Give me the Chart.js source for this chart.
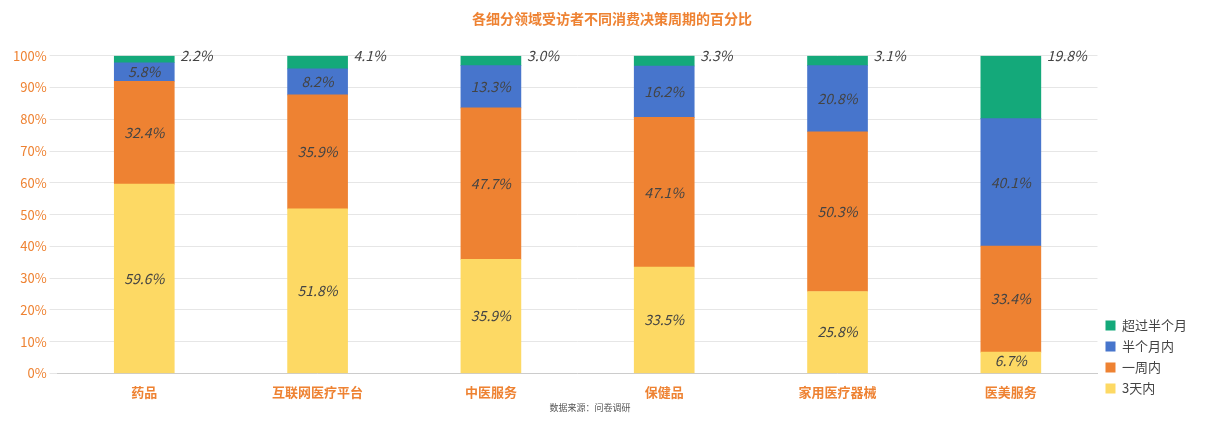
<!DOCTYPE html>
<html><head><meta charset="utf-8">
<script src="https://cdn.jsdelivr.net/npm/chart.js@4"></script>
<style>html,body{margin:0;background:#fff}#w{width:1230px;height:422px;position:relative}</style>
</head><body><div id="w"><canvas id="c" width="1230" height="422"></canvas></div>
<script>
const categories=['药品','互联网医疗平台','中医服务','保健品','家用医疗器械','医美服务'];
const s3days=[59.6,51.8,35.9,33.5,25.8,6.7];
const sWeek=[32.4,35.9,47.7,47.1,50.3,33.4];
const sHalf=[5.8,8.2,13.3,16.2,20.8,40.1];
const sOver=[2.2,4.1,3.0,3.3,3.1,19.8];
const yTicks=[0,10,20,30,40,50,60,70,80,90,100];
const F='"Noto Sans CJK SC","Noto Sans",sans-serif';
const labelPlugin={id:'lbl',afterDatasetsDraw(ch){
  const ctx=ch.ctx;ctx.save();ctx.font='italic 14px '+F;ctx.fillStyle='#444';ctx.textBaseline='middle';
  ch.data.datasets.forEach((ds,di)=>{const m=ch.getDatasetMeta(di);if(m.hidden)return;
    m.data.forEach((b,i)=>{const v=ds.data[i];const t=v.toFixed(1)+'%';
      if(ds.label==='超过半个月'){ctx.textAlign='left';ctx.fillText(t,b.x+b.width/2+6,b.y);}
      else if(v<10&&ds.label==='3天内'){ctx.textAlign='center';ctx.fillText(t,b.x,b.base-12);}
      else{ctx.textAlign='center';ctx.fillText(t,(b.x),(b.y+b.base)/2);}
    });});
  ctx.font='9px '+F;ctx.fillStyle='#555';ctx.textAlign='center';ctx.fillText('数据来源：问卷调研',590,408);
  ctx.restore();}};
new Chart(document.getElementById('c'),{type:'bar',
 data:{labels:categories,datasets:[
  {label:'3天内',data:s3days,backgroundColor:'#FDD964'},
  {label:'一周内',data:sWeek,backgroundColor:'#EE8232'},
  {label:'半个月内',data:sHalf,backgroundColor:'#4775CC'},
  {label:'超过半个月',data:sOver,backgroundColor:'#14A97A'}]},
 options:{responsive:false,animation:false,devicePixelRatio:1,
  layout:{padding:{left:10,right:16,top:4,bottom:19}},
  datasets:{bar:{barThickness:60}},
  plugins:{title:{display:true,text:'各细分领域受访者不同消费决策周期的百分比',color:'#EE8232',font:{family:F,size:14,weight:'bold'},padding:{top:6,bottom:29}},
   legend:{position:'right',align:'end',reverse:true,labels:{boxWidth:10,boxHeight:10,color:'#444',font:{family:F,size:13},padding:8}},
   tooltip:{enabled:false}},
  scales:{x:{stacked:true,grid:{display:false},border:{color:'#ccc'},ticks:{color:'#EE8232',font:{family:F,size:13,weight:'bold'},maxRotation:0},afterFit:a=>{}},
   y:{stacked:true,min:0,max:100,afterBuildTicks:a=>{a.ticks=yTicks.map(v=>({value:v}));},grid:{color:'#e6e6e6'},border:{display:false},
    ticks:{color:'#EE8232',font:{family:F,size:13},callback:v=>v+'%'}}}},
 plugins:[labelPlugin,{id:'lw',afterInit(ch){const l=ch.legend;const f=l.fit.bind(l);l.fit=function(){f();this.width+=17;};}}]});
</script></body></html>
